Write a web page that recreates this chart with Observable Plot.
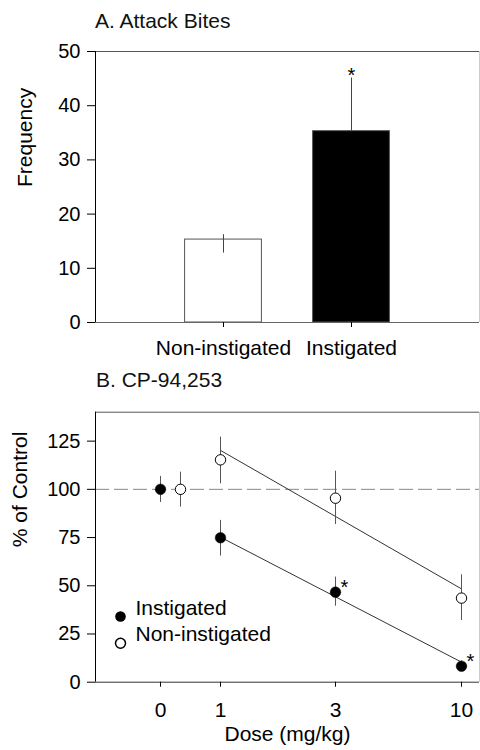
<!DOCTYPE html>
<html><head><meta charset="utf-8">
<script src="https://cdn.jsdelivr.net/npm/d3@7"></script>
<script src="https://cdn.jsdelivr.net/npm/@observablehq/plot@0.6"></script>
<style>
body{margin:0;background:#fff;font-family:"Liberation Sans",Arial,sans-serif;}
#wrap{position:relative;width:480px;height:750px;overflow:hidden;}
.title{position:absolute;font-size:21px;line-height:21px;color:#111;white-space:nowrap;}
#pa svg,#pb svg{display:block}
</style></head><body><div id="wrap">
<div id="pa"></div><div id="pb"></div>
<div class="title" style="left:95px;top:10px">A. Attack Bites</div>
<div class="title" style="left:96px;top:369px">B. CP-94,253</div>
</div>
<script>
// ---------- Panel A: Attack bites ----------
const groups = ["Non-instigated", "Instigated"];
const biteMean = [15.3, 35.3];
const biteLow = [12.8, 35.3];
const biteHigh = [16.2, 45.1];
const biteSig = [false, true];
const biteTicks = [0, 10, 20, 30, 40, 50];

// ---------- Panel B: CP-94,253 ----------
const doses = [0, 1, 3, 10];
const doseTickLabels = ["0", "1", "3", "10"];
const instMean = [100, 74.9, 46.7, 8.3];
const instLow = [93.2, 65.4, 39.4, 5.8];
const instHigh = [106.7, 83.9, 54.5, 11.0];
const instSig = [false, false, true, true];
const nonMean = [100, 115.3, 95.4, 43.6];
const nonLow = [90.8, 102.9, 81.8, 32.0];
const nonHigh = [108.9, 127.1, 109.4, 55.7];
const fitDoses = [1, 10];
const instFit = [75.2, 10.4];
const nonFit = [120.2, 48.4];
const pctTicks = [0, 25, 50, 75, 100, 125];
const legendLabels = ["Instigated", "Non-instigated"];

const FONT = '"Liberation Sans", Arial, sans-serif';

// Panel A table
const aData = groups.map((g, i) => ({group: g, pos: i + 1, mean: biteMean[i], lo: biteLow[i], hi: biteHigh[i], sig: biteSig[i]}));

const plotA = Plot.plot({
  width: 480, height: 365,
  marginTop: 51, marginBottom: 43, marginLeft: 95, marginRight: 1,
  style: {fontFamily: FONT, fontSize: "20px", color: "#000", background: "#fff"},
  x: {domain: [0, 3]},
  y: {domain: [0, 50]},
  color: {domain: groups, range: ["#fff", "#000"]},
  marks: [
    Plot.ruleY([50], {stroke: "#555"}),
    Plot.ruleX([3], {stroke: "#ccc"}),
    Plot.rectY(aData, {x1: d => d.pos - 0.3, x2: d => d.pos + 0.3, y1: 0, y2: "mean", fill: "group", stroke: "#555", strokeWidth: 1}),
    Plot.ruleX(aData, {x: "pos", y1: "lo", y2: "hi", stroke: "#444", strokeWidth: 1}),
    Plot.text(aData.filter(d => d.sig), {x: "pos", y: "hi", text: () => "*", dy: -2, fontSize: 20}),
    Plot.ruleY([0], {stroke: "#666"}),
    Plot.ruleX([0], {stroke: "#000"}),
    Plot.axisY({ticks: biteTicks, tickSize: 8, tickPadding: 7, label: null, fontSize: 20}),
    Plot.axisX({ticks: [1, 2], tickFormat: p => groups[p - 1], tickSize: 5, tickPadding: 13, label: null, fontSize: 21}),
    Plot.text(["Frequency"], {text: d => d, frameAnchor: "left", rotate: -90, dx: -70, fontSize: 21})
  ]
});
document.getElementById("pa").appendChild(plotA);

// Panel B: dose position on a log axis with 0 placed as a break to the left
const ZERO_POS = -0.249;
const NON_ZERO_OFFSET = 0.083;
const pos = d => d === 0 ? ZERO_POS : Math.log10(d);
const tickPos = doses.map(pos);

const bData = [];
doses.forEach((d, i) => {
  bData.push({series: "Instigated", dose: d, x: pos(d), mean: instMean[i], lo: instLow[i], hi: instHigh[i], sig: instSig[i]});
  bData.push({series: "Non-instigated", dose: d, x: pos(d) + (d === 0 ? NON_ZERO_OFFSET : 0), mean: nonMean[i], lo: nonLow[i], hi: nonHigh[i], sig: false});
});
const fitData = [];
fitDoses.forEach((d, i) => {
  fitData.push({series: "Instigated", x: pos(d), y: instFit[i]});
  fitData.push({series: "Non-instigated", x: pos(d), y: nonFit[i]});
});

const plotB = Plot.plot({
  width: 480, height: 385,
  marginTop: 46.7, marginBottom: 68.3, marginLeft: 95, marginRight: 1,
  style: {fontFamily: FONT, fontSize: "20px", color: "#000", background: "#fff"},
  x: {domain: [-0.5187, 1.0747]},
  y: {domain: [0, 140]},
  marks: [
    Plot.ruleY([140], {stroke: "#555"}),
    Plot.ruleX([1.0747], {stroke: "#ccc"}),
    Plot.ruleY([100], {stroke: "#888", strokeDasharray: "14,5"}),
    Plot.line(fitData, {x: "x", y: "y", z: "series", stroke: "#333", strokeWidth: 1}),
    Plot.ruleX(bData, {x: "x", y1: "lo", y2: "hi", stroke: "#555", strokeWidth: 1}),
    Plot.dot(bData.filter(d => d.series === "Non-instigated"), {x: "x", y: "mean", r: 5.2, fill: "#fff", stroke: "#000", strokeWidth: 1}),
    Plot.dot(bData.filter(d => d.series === "Instigated"), {x: "x", y: "mean", r: 5.3, fill: "#000", stroke: "#000", strokeWidth: 0.5}),
    Plot.text(bData.filter(d => d.sig), {x: "x", y: "mean", text: () => "*", dx: 9, dy: -4.5, fontSize: 20}),
    Plot.ruleY([0], {stroke: "#333"}),
    Plot.ruleX([-0.5187], {stroke: "#000"}),
    Plot.axisY({ticks: pctTicks, tickSize: 8, tickPadding: 7, label: null, fontSize: 20}),
    Plot.axisX({ticks: tickPos, tickFormat: p => doseTickLabels[tickPos.indexOf(p)], tickSize: 5, tickPadding: 15, label: null, fontSize: 21}),
    Plot.text(["% of Control"], {text: d => d, frameAnchor: "left", rotate: -90, dx: -75, fontSize: 21}),
    Plot.text(["Dose (mg/kg)"], {text: d => d, frameAnchor: "bottom", dy: 58.6, fontSize: 21}),
    // legend
    Plot.dot([legendLabels[0]], {frameAnchor: "bottom-left", dx: 25, dy: -65.7, r: 5.3, fill: "#000"}),
    Plot.dot([legendLabels[1]], {frameAnchor: "bottom-left", dx: 25, dy: -39, r: 5, fill: "#fff", stroke: "#000"}),
    Plot.text([legendLabels[0]], {text: d => d, frameAnchor: "bottom-left", dx: 40, dy: -67.7, textAnchor: "start", fontSize: 21}),
    Plot.text([legendLabels[1]], {text: d => d, frameAnchor: "bottom-left", dx: 40, dy: -41.4, textAnchor: "start", fontSize: 21})
  ]
});
document.getElementById("pb").appendChild(plotB);
</script>
</body></html>
